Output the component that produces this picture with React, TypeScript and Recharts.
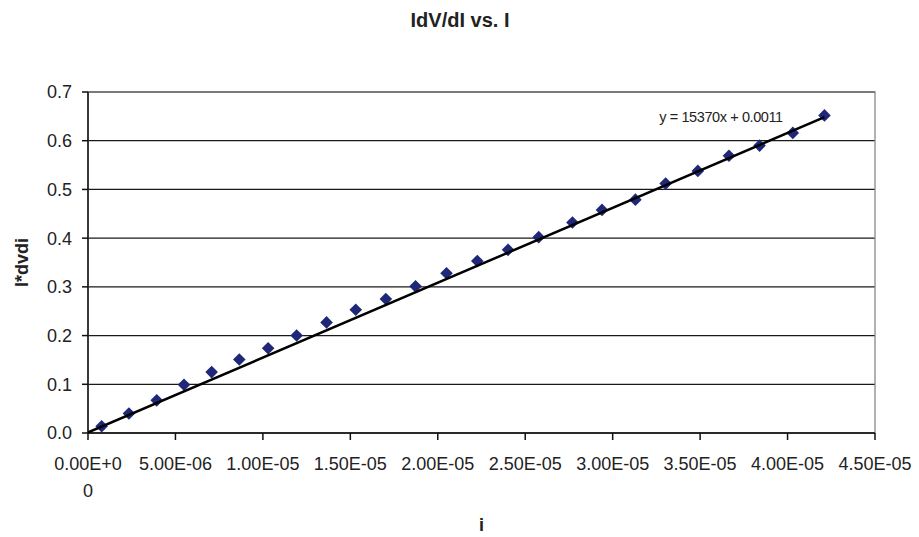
import { ScatterChart, Scatter, XAxis, YAxis, CartesianGrid, ReferenceArea } from "recharts";

// current i (A) and I*dV/dI
const currentA = [
  0.78e-6, 2.34e-6, 3.93e-6, 5.49e-6, 7.07e-6, 8.65e-6, 10.3e-6, 11.93e-6, 13.64e-6,
  15.31e-6, 17.03e-6, 18.73e-6, 20.5e-6, 22.26e-6, 24.02e-6, 25.77e-6, 27.7e-6,
  29.39e-6, 31.3e-6, 33.03e-6, 34.87e-6, 36.65e-6, 38.4e-6, 40.3e-6, 42.11e-6,
];
const iDvdi = [
  0.014, 0.04, 0.067, 0.099, 0.125, 0.151, 0.174, 0.2, 0.227, 0.253, 0.275, 0.301,
  0.328, 0.353, 0.376, 0.402, 0.432, 0.458, 0.479, 0.512, 0.538, 0.569, 0.59, 0.616, 0.652,
];
const xTicks = [0, 5e-6, 1e-5, 1.5e-5, 2e-5, 2.5e-5, 3e-5, 3.5e-5, 4e-5, 4.5e-5];
const yTicks = [0, 0.1, 0.2, 0.3, 0.4, 0.5, 0.6, 0.7];

// excel linear trendline
const trendSlope = 15370;
const trendIntercept = 0.0011;
const trendRange = [0, 42.11e-6];

const points = currentA.map((x, i) => ({ x, y: iDvdi[i] }));
const trend = trendRange.map((x) => ({ x, y: trendSlope * x + trendIntercept }));

const FONT = '"Liberation Sans", Arial, sans-serif';
const INK = "#222";

const sci = (v: number) => {
  const [m, e] = v.toExponential(2).split("e");
  const n = Math.abs(parseInt(e, 10));
  return `${m}E${e.startsWith("-") ? "-" : "+"}${String(n).padStart(2, "0")}`;
};

const XTick = ({ x, y, payload }: any) => {
  const label = sci(payload.value);
  // excel wraps the first label, it doesn't fit
  const lines = payload.value === 0 ? [label.slice(0, 7), label.slice(7)] : [label];
  return (
    <text textAnchor="middle" fontSize={18} fill={INK} fontFamily={FONT}>
      {lines.map((l, i) => (
        <tspan key={i} x={x} y={y + 30 + i * 27}>
          {l}
        </tspan>
      ))}
    </text>
  );
};

const Diamond = ({ cx, cy }: any) => {
  const r = 6.3;
  return (
    <polygon
      points={`${cx},${cy - r} ${cx + r},${cy} ${cx},${cy + r} ${cx - r},${cy}`}
      fill="#1f2878"
    />
  );
};

const YTitle = ({ viewBox }: any) => {
  const cx = viewBox.x + 21.5;
  const cy = viewBox.y + viewBox.height / 2;
  return (
    <text
      x={cx}
      y={cy}
      transform={`rotate(-90, ${cx}, ${cy})`}
      textAnchor="middle"
      dominantBaseline="central"
      fontSize={18}
      fontWeight="bold"
      fill={INK}
      fontFamily={FONT}
    >
      I*dvdi
    </text>
  );
};

const XTitle = ({ viewBox }: any) => (
  <text
    x={viewBox.x + viewBox.width / 2}
    y={viewBox.y + 98}
    textAnchor="middle"
    fontSize={18}
    fontWeight="bold"
    fill={INK}
    fontFamily={FONT}
  >
    i
  </text>
);

export default function App() {
  return (
    <div style={{ position: "absolute", left: 0, top: 0, width: 919, height: 537, background: "#fff" }}>
      <ScatterChart width={919} height={537} margin={{ top: 92, right: 44, bottom: 0, left: 0 }}>
        <CartesianGrid vertical={false} stroke="#1a1a1a" strokeWidth={1.3} />
        <ReferenceArea x1={0} x2={4.5e-5} y1={0} y2={0.7} fill="none" stroke="#888" strokeWidth={1.3} />
        <XAxis
          type="number"
          dataKey="x"
          domain={[0, 4.5e-5]}
          ticks={xTicks}
          interval={0}
          height={104}
          tickSize={7}
          tickMargin={0}
          stroke="#111"
          strokeWidth={1.5}
          tick={<XTick />}
          label={<XTitle />}
          allowDataOverflow
        />
        <YAxis
          type="number"
          dataKey="y"
          domain={[0, 0.7]}
          ticks={yTicks}
          interval={0}
          width={88}
          tickSize={6}
          tickMargin={10}
          stroke="#111"
          strokeWidth={1.5}
          tick={{ fontSize: 18, fill: INK, fontFamily: FONT }}
          tickFormatter={(v: number) => v.toFixed(1)}
          label={<YTitle />}
          allowDataOverflow
        />
        <Scatter data={points} shape={<Diamond />} isAnimationActive={false} />
        <Scatter
          data={trend}
          line={{ stroke: "#000", strokeWidth: 2.5 }}
          shape={() => <g />}
          isAnimationActive={false}
        />
      </ScatterChart>
      <svg width={919} height={537} style={{ position: "absolute", left: 0, top: 0, pointerEvents: "none" }}>
        <text x={460} y={27} textAnchor="middle" fontSize={20} fontWeight="bold" fill={INK} fontFamily={FONT}>
          IdV/dI vs. I
        </text>
        <text x={721} y={122} textAnchor="middle" fontSize={14.5} fill={INK} fontFamily={FONT} letterSpacing={-0.4}>
          y = 15370x + 0.0011
        </text>
      </svg>
    </div>
  );
}
